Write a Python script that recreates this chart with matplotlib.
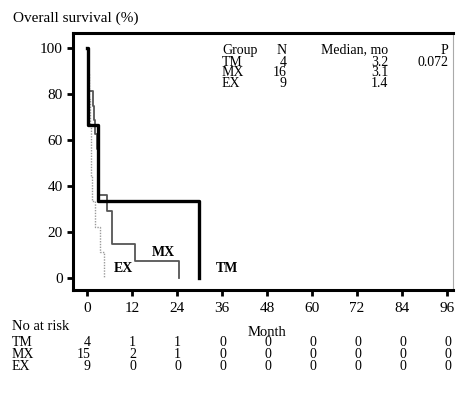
import matplotlib
matplotlib.use("Agg")
import matplotlib.pyplot as plt

plt.rcParams['font.family'] = ['Liberation Serif', 'DejaVu Serif']

# survival step data (month, % surviving)
tm_t = [0, 0.2, 3.0, 30]
tm_s = [100, 66.7, 33.3, 0]
mx_t = [0, 0.2, 0.3, 0.5, 1.5, 1.8, 2.2, 2.6, 2.9, 3.1, 3.3, 5.3, 6.6, 12.8, 24.6]
mx_s = [100, 93.8, 87.5, 81.3, 75, 68.8, 62.5, 56.3, 50, 43.8, 36, 29, 15, 7.5, 0]
ex_t = [0, 0.3, 0.5, 0.7, 1.0, 1.2, 1.4, 2.1, 3.5, 4.5]
ex_s = [100, 88.9, 77.8, 66.7, 55.6, 44.4, 33.3, 22.2, 11.1, 0]

months = [0, 12, 24, 36, 48, 60, 72, 84, 96]
groups = ['TM', 'MX', 'EX']
n_patients = [4, 16, 9]
medians = ['3.2', '3.1', '1.4']
p_value = '0.072'
at_risk = {
    'TM': [4, 1, 1, 0, 0, 0, 0, 0, 0],
    'MX': [15, 2, 1, 0, 0, 0, 0, 0, 0],
    'EX': [9, 0, 0, 0, 0, 0, 0, 0, 0],
}

fig = plt.figure(figsize=(4.59, 3.94), dpi=100)
ax = fig.add_axes([0.159, 0.264, 0.828, 0.652])

ax.step(ex_t, ex_s, where='post', color='#9a9a9a', lw=1.0, ls=(0, (1, 1)))
ax.step(mx_t, mx_s, where='post', color='#555555', lw=1.3)
ax.step(tm_t, tm_s, where='post', color='black', lw=2.4)

ax.text(37.3, 4.3, 'TM', fontsize=10, fontweight='bold', ha='center', va='center')
ax.text(20.3, 11.3, 'MX', fontsize=10, fontweight='bold', ha='center', va='center')
ax.text(9.7, 4.3, 'EX', fontsize=10, fontweight='bold', ha='center', va='center')

ax.set_xlim(-3.73, 97.6)
ax.set_ylim(-5.2, 106.5)
ax.set_xticks(months)
ax.set_yticks([0, 20, 40, 60, 80, 100])
ax.tick_params(axis='both', direction='out', length=4, width=2, labelsize=11)
ax.tick_params(axis='x', pad=5)
for s in ['left', 'bottom', 'top']:
    ax.spines[s].set_linewidth(2.2)
ax.spines['right'].set_linewidth(0.8)
ax.spines['right'].set_color('#aaaaaa')

# summary table in the upper right
tkw = dict(fontsize=10, va='center')
rows_y = [99.1, 93.9, 89.3, 84.8]
ax.text(36.0, rows_y[0], 'Group', ha='left', **tkw)
ax.text(53.3, rows_y[0], 'N', ha='right', **tkw)
ax.text(80.3, rows_y[0], 'Median, mo', ha='right', **tkw)
ax.text(96.3, rows_y[0], 'P', ha='right', **tkw)
for i, g in enumerate(groups):
    y = rows_y[i + 1]
    ax.text(36.0, y, g, ha='left', **tkw)
    ax.text(53.3, y, str(n_patients[i]), ha='right', **tkw)
    ax.text(80.3, y, medians[i], ha='right', **tkw)
ax.text(96.3, rows_y[1], p_value, ha='right', **tkw)

fig.text(13 / 459, 1 - 18 / 394, 'Overall survival (%)', fontsize=11, va='center')

# number at risk table
fig.text(12 / 459, 1 - 327 / 394, 'No at risk', fontsize=10.5, va='center')
fig.text(267 / 459, 1 - 333 / 394, 'Month', fontsize=10.5, va='center', ha='center')
row_px = [343, 355, 367]
for g, ypx in zip(groups, row_px):
    yf = 1 - ypx / 394
    fig.text(12 / 459, yf, g, fontsize=10, va='center')
    for m, v in zip(months, at_risk[g]):
        xf = (87 + m * 3.75 + 4) / 459
        fig.text(xf, yf, str(v), fontsize=10, va='center', ha='right')

fig.savefig('out.png', dpi=100)
